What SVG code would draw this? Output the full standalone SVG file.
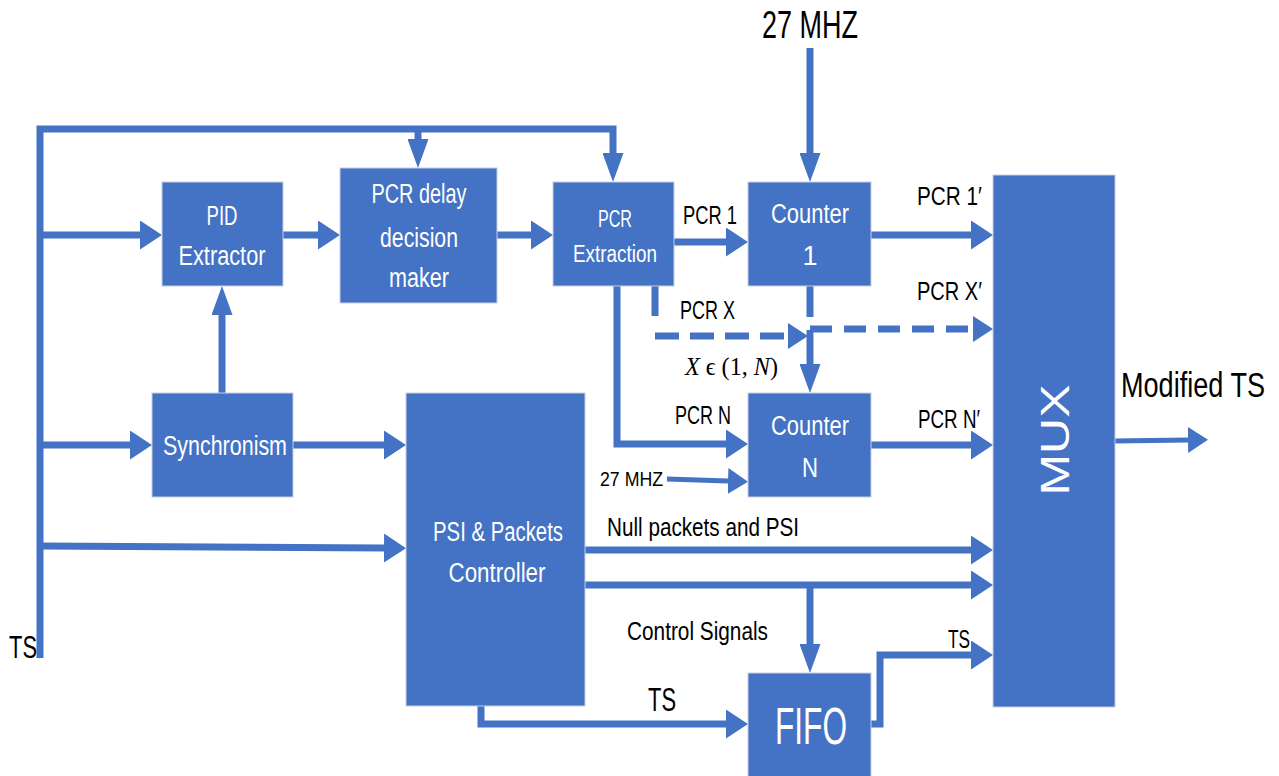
<svg xmlns="http://www.w3.org/2000/svg" width="1279" height="776" viewBox="0 0 1279 776">
<defs>
<style>
.box{fill:#4472C4;stroke:#c5cfe3;stroke-width:1}
.ln{fill:none;stroke:#4472C4;stroke-width:7;stroke-linejoin:miter}
.thin{stroke-width:5}
.w{fill:#ffffff;font-family:"Liberation Sans",Arial,sans-serif;text-anchor:middle}
.k{fill:#000000;font-family:"Liberation Sans",Arial,sans-serif}
.m{fill:#000000;font-family:"Liberation Serif","DejaVu Serif",serif}
</style>
<marker id="ah" markerUnits="userSpaceOnUse" markerWidth="22" markerHeight="29" refX="0" refY="14.5" orient="auto" viewBox="0 0 22 29">
<path d="M0,0 L22,14.5 L0,29 Z" fill="#4472C4"/>
</marker>
<marker id="as" markerUnits="userSpaceOnUse" markerWidth="20" markerHeight="26" refX="0" refY="13" orient="auto" viewBox="0 0 20 26">
<path d="M0,0 L20,13 L0,26 Z" fill="#4472C4"/>
</marker>
<marker id="av" markerUnits="userSpaceOnUse" markerWidth="29" markerHeight="21" refX="0" refY="10.5" orient="auto" viewBox="0 0 29 21">
<path d="M0,0 L29,10.5 L0,21 Z" fill="#4472C4"/>
</marker>
</defs>
<rect width="1279" height="776" fill="#ffffff"/>

<g id="connectors">
<path class="ln" d="M40,658 V129 H613 V153" marker-end="url(#av)"/>
<path class="ln" d="M418,129 V139" marker-end="url(#av)"/>
<path class="ln" d="M40,235 H140" marker-end="url(#ah)"/>
<path class="ln" d="M40,445 H130" marker-end="url(#ah)"/>
<path class="ln" d="M40,546 L384,548" marker-end="url(#ah)"/>
<path class="ln" d="M283,235 H318" marker-end="url(#ah)"/>
<path class="ln" d="M497,235 H531" marker-end="url(#ah)"/>
<path class="ln" d="M222,393 V315" marker-end="url(#av)"/>
<path class="ln" d="M293,445 H384" marker-end="url(#ah)"/>
<path class="ln" d="M674,242 H726" marker-end="url(#ah)"/>
<path class="ln" d="M810,48 V153" marker-end="url(#av)"/>
<path class="ln" d="M871,235 H971" marker-end="url(#ah)"/>
<path class="ln" d="M655,286 V316" stroke-width="6"/>
<path class="ln" d="M655,336 H788" stroke-dasharray="24 11" marker-end="url(#as)"/>
<path class="ln" d="M810,329 H973" stroke-dasharray="22 12" marker-end="url(#as)"/>
<path class="ln" d="M810,286 V317" stroke-width="6"/>
<path class="ln" d="M810,330 V364" stroke-width="6" marker-end="url(#av)"/>
<path class="ln" d="M617,286 V444 H726" marker-end="url(#ah)"/>
<path class="ln thin" d="M667,479 L728,481" marker-end="url(#as)"/>
<path class="ln" d="M871,445 H971" marker-end="url(#ah)"/>
<path class="ln" d="M585,550 H971" marker-end="url(#ah)"/>
<path class="ln" d="M585,585 H971" marker-end="url(#ah)"/>
<path class="ln" d="M810,585 V644" marker-end="url(#av)"/>
<path class="ln" d="M481,706 V724 H726" marker-end="url(#ah)"/>
<path class="ln" d="M871,724 H880 V655 H971" marker-end="url(#ah)"/>
<path class="ln thin" d="M1115,441 L1188,440" marker-end="url(#as)"/>
</g>

<g id="pid-extractor">
<rect class="box" x="162" y="182" width="121" height="104"/>
<text class="w" x="222" y="225" font-size="27" textLength="31" lengthAdjust="spacingAndGlyphs">PID</text>
<text class="w" x="222" y="265" font-size="27" textLength="87" lengthAdjust="spacingAndGlyphs">Extractor</text>
</g>

<g id="pcr-delay">
<rect class="box" x="340" y="168" width="157" height="135"/>
<text class="w" x="419" y="203" font-size="27" textLength="95" lengthAdjust="spacingAndGlyphs">PCR delay</text>
<text class="w" x="419" y="247" font-size="27" textLength="78" lengthAdjust="spacingAndGlyphs">decision</text>
<text class="w" x="419" y="287" font-size="27" textLength="60" lengthAdjust="spacingAndGlyphs">maker</text>
</g>

<g id="pcr-extraction">
<rect class="box" x="553" y="182" width="121" height="104"/>
<text class="w" x="615" y="227" font-size="23" textLength="34" lengthAdjust="spacingAndGlyphs">PCR</text>
<text class="w" x="615" y="262" font-size="23" textLength="84" lengthAdjust="spacingAndGlyphs">Extraction</text>
</g>

<g id="counter-1">
<rect class="box" x="748" y="182" width="123" height="104"/>
<text class="w" x="810" y="223" font-size="27" textLength="78" lengthAdjust="spacingAndGlyphs">Counter</text>
<text class="w" x="810" y="265" font-size="27">1</text>
</g>

<g id="counter-n">
<rect class="box" x="748" y="393" width="123" height="104"/>
<text class="w" x="810" y="435" font-size="27" textLength="78" lengthAdjust="spacingAndGlyphs">Counter</text>
<text class="w" x="810" y="477" font-size="27" textLength="16" lengthAdjust="spacingAndGlyphs">N</text>
</g>

<g id="synchronism">
<rect class="box" x="152" y="393" width="141" height="104"/>
<text class="w" x="225" y="455" font-size="27" textLength="124" lengthAdjust="spacingAndGlyphs">Synchronism</text>
</g>

<g id="psi-controller">
<rect class="box" x="406" y="393" width="179" height="313"/>
<text class="w" x="498" y="541" font-size="27" textLength="130" lengthAdjust="spacingAndGlyphs">PSI &amp; Packets</text>
<text class="w" x="497" y="582" font-size="27" textLength="97" lengthAdjust="spacingAndGlyphs">Controller</text>
</g>

<g id="fifo">
<rect class="box" x="748" y="673" width="123" height="110"/>
<text class="w" x="811" y="744" font-size="52" textLength="72" lengthAdjust="spacingAndGlyphs">FIFO</text>
</g>

<g id="mux">
<rect class="box" x="993" y="175" width="122" height="532"/>
<text class="w" x="0" y="0" font-size="40" textLength="111" lengthAdjust="spacingAndGlyphs" transform="translate(1069,440) rotate(-90)">MUX</text>
</g>

<g id="labels">
<text class="k" x="762" y="38" font-size="38" textLength="96" lengthAdjust="spacingAndGlyphs">27 MHZ</text>
<text class="k" x="683" y="224" font-size="26" textLength="54" lengthAdjust="spacingAndGlyphs">PCR 1</text>
<text class="k" x="917" y="205" font-size="26" textLength="65" lengthAdjust="spacingAndGlyphs">PCR 1′</text>
<text class="k" x="917" y="300" font-size="26" textLength="65" lengthAdjust="spacingAndGlyphs">PCR X′</text>
<text class="k" x="680" y="319" font-size="26" textLength="55" lengthAdjust="spacingAndGlyphs">PCR X</text>
<text class="m" x="685" y="375" font-size="26" textLength="93" lengthAdjust="spacingAndGlyphs"><tspan font-style="italic">X</tspan> ϵ (1, <tspan font-style="italic">N</tspan>)</text>
<text class="k" x="675" y="424" font-size="26" textLength="56" lengthAdjust="spacingAndGlyphs">PCR N</text>
<text class="k" x="918" y="428" font-size="26" textLength="62" lengthAdjust="spacingAndGlyphs">PCR N′</text>
<text class="k" x="600" y="486" font-size="20" textLength="63" lengthAdjust="spacingAndGlyphs">27 MHZ</text>
<text class="k" x="1121" y="397" font-size="35" textLength="144" lengthAdjust="spacingAndGlyphs">Modified TS</text>
<text class="k" x="607" y="536" font-size="26" textLength="192" lengthAdjust="spacingAndGlyphs">Null packets and PSI</text>
<text class="k" x="627" y="640" font-size="26" textLength="141" lengthAdjust="spacingAndGlyphs">Control Signals</text>
<text class="k" x="648" y="711" font-size="34" textLength="28" lengthAdjust="spacingAndGlyphs">TS</text>
<text class="k" x="948" y="648" font-size="26" textLength="22" lengthAdjust="spacingAndGlyphs">TS</text>
<text class="k" x="9" y="658" font-size="32" textLength="28" lengthAdjust="spacingAndGlyphs">TS</text>
</g>
</svg>
